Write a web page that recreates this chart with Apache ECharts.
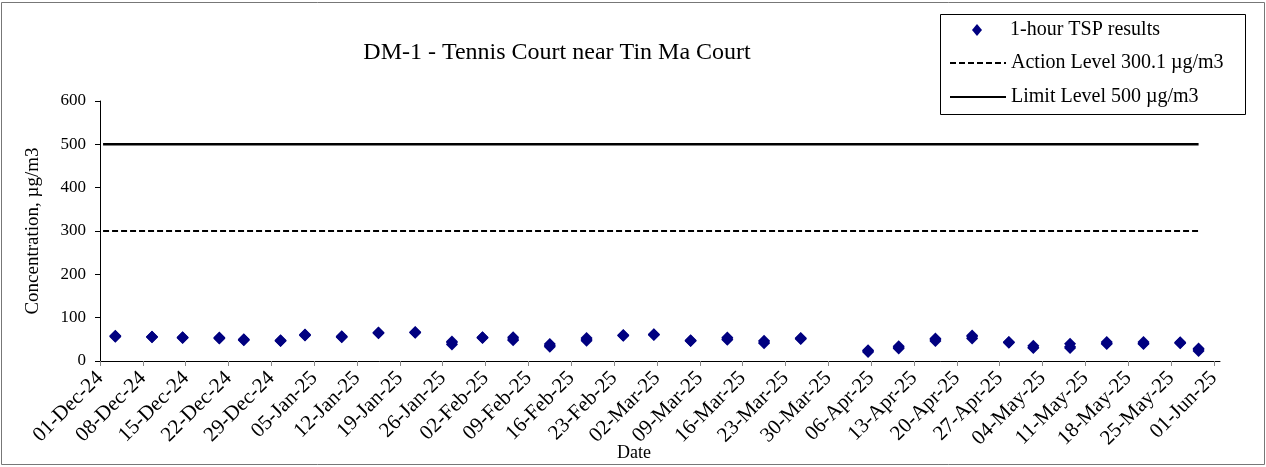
<!DOCTYPE html>
<html>
<head>
<meta charset="utf-8">
<script src="https://cdn.jsdelivr.net/npm/echarts@6/dist/echarts.min.js"></script>
<style>
html,body{margin:0;padding:0;background:#fff;}
#chart{width:1266px;height:467px;}
</style>
</head>
<body>
<div id="chart"></div>
<script>
// ---- data ----
const chartTitle = 'DM-1 - Tennis Court near Tin Ma Court';
const seriesNames = ['1-hour TSP results', 'Action Level 300.1 µg/m3', 'Limit Level 500 µg/m3'];
const axisStartDate = '2024-12-01';
const axisEndDate = '2025-06-02';
const xTickLabels = ['01-Dec-24','08-Dec-24','15-Dec-24','22-Dec-24','29-Dec-24','05-Jan-25','12-Jan-25','19-Jan-25','26-Jan-25','02-Feb-25','09-Feb-25','16-Feb-25','23-Feb-25','02-Mar-25','09-Mar-25','16-Mar-25','23-Mar-25','30-Mar-25','06-Apr-25','13-Apr-25','20-Apr-25','27-Apr-25','04-May-25','11-May-25','18-May-25','25-May-25','01-Jun-25'];
const yTicks = [0, 100, 200, 300, 400, 500, 600];
const sampleDates = ['2024-12-03','2024-12-09','2024-12-14','2024-12-20','2024-12-24','2024-12-30','2025-01-03','2025-01-09','2025-01-15','2025-01-21','2025-01-27','2025-02-01','2025-02-06','2025-02-12','2025-02-18','2025-02-24','2025-03-01','2025-03-07','2025-03-13','2025-03-19','2025-03-25','2025-04-05','2025-04-10','2025-04-16','2025-04-22','2025-04-28','2025-05-02','2025-05-08','2025-05-14','2025-05-20','2025-05-26','2025-05-29'];
const tspRun1 = [56,55,53,52,48,46,59,55,64,65,38,53,48,33,47,58,60,46,49,41,51,21,29,46,52,42,30,30,39,39,41,23];
const tspRun2 = [57,56,54,53,49,47,60,56,65,66,42,54,51,36,50,59,61,47,51,44,52,23,32,49,56,43,32,33,41,41,42,26];
const tspRun3 = [58,56,55,54,50,48,61,57,66,67,45,55,55,39,53,60,62,48,54,47,53,25,34,52,59,44,35,40,44,44,43,29];
const levelDates = ['2024-12-01','2025-05-29'];
const actionLevel = 300.1;
const limitLevel = 500;

// ---- helpers ----
const DAY = 86400000;
function dayIndex(s){
  const p = s.split('-').map(Number);
  const p0 = axisStartDate.split('-').map(Number);
  return (Date.UTC(p[0], p[1]-1, p[2]) - Date.UTC(p0[0], p0[1]-1, p0[2])) / DAY;
}
// Excel date axis: a day's value sits in the middle of that day
const pos = s => dayIndex(s) + 0.5;

const tspData = [];
[tspRun1, tspRun2, tspRun3].forEach(run => {
  run.forEach((v, i) => tspData.push([pos(sampleDates[i]), v]));
});
const actionData = levelDates.map(d => [pos(d), actionLevel]);
const limitData = levelDates.map(d => [pos(d), limitLevel]);
const tickValues = xTickLabels.map((_, i) => i * 7);

const FONT = 'Liberation Serif';
const chart = echarts.init(document.getElementById('chart'));
const legendText = { fontFamily: FONT, fontSize: 20, color: '#000', lineHeight: 20 };
chart.setOption({
  animation: false,
  backgroundColor: '#fff',
  title: {
    text: chartTitle, left: 557, top: 41, textAlign: 'center', padding: 0,
    textStyle: { fontFamily: FONT, fontSize: 24, fontWeight: 'normal', color: '#000' }
  },
  legend: [
    { orient: 'horizontal', left: 972, top: 20, padding: 0, itemWidth: 10, itemHeight: 12,
      selectedMode: false, icon: 'diamond', itemStyle: { opacity: 1 },
      textStyle: Object.assign({}, legendText, { padding: [0, 0, 0, 23] }),
      data: [seriesNames[0]] },
    { orient: 'horizontal', left: 949, top: 53, padding: 0, itemWidth: 56, itemHeight: 12,
      selectedMode: false, itemStyle: { opacity: 0 }, textStyle: legendText,
      data: [seriesNames[1]] },
    { orient: 'horizontal', left: 949, top: 87, padding: 0, itemWidth: 56, itemHeight: 12,
      selectedMode: false, itemStyle: { opacity: 0 }, textStyle: legendText,
      data: [seriesNames[2]] }
  ],
  graphic: [
    { type: 'rect', shape: { x: 1.5, y: 2.5, width: 1263, height: 462 }, style: { fill: 'none', stroke: '#777', lineWidth: 1 }, silent: true, z: -1 },
    { type: 'rect', shape: { x: 940.5, y: 14.5, width: 305, height: 100 }, style: { fill: '#fff', stroke: '#000', lineWidth: 1 }, silent: true, z: 0 }
  ],
  grid: { left: 100, top: 101, right: 46, bottom: 106, containLabel: false, outerBoundsMode: 'none' },
  xAxis: {
    type: 'value', min: 0, max: dayIndex(axisEndDate), interval: 7,
    name: 'Date', nameLocation: 'middle', nameGap: 83, nameMoveOverlap: false,
    nameTextStyle: { fontFamily: FONT, fontSize: 18, color: '#000', padding: [0, 52, 0, 0] },
    axisLine: { show: true, lineStyle: { color: '#000', width: 1 } },
    axisTick: { show: true, length: 5, lineStyle: { color: '#888' }, customValues: tickValues },
    axisLabel: {
      rotate: 45, margin: 14, customValues: tickValues,
      fontFamily: FONT, fontSize: 21, color: '#000',
      formatter: v => xTickLabels[Math.round(v / 7)] || ''
    },
    splitLine: { show: false }
  },
  yAxis: {
    type: 'value', min: yTicks[0], max: yTicks[yTicks.length-1], interval: 100,
    name: 'Concentration, µg/m3', nameLocation: 'middle', nameGap: 57, nameMoveOverlap: false,
    nameTextStyle: { fontFamily: FONT, fontSize: 19, color: '#000' },
    axisLine: { show: true, lineStyle: { color: '#000', width: 1 } },
    axisTick: { show: true, inside: false, length: 5, lineStyle: { color: '#000' } },
    axisLabel: { fontFamily: FONT, fontSize: 17, color: '#000', margin: 14 },
    splitLine: { show: false }
  },
  series: [
    {
      name: seriesNames[0], type: 'scatter', data: tspData,
      symbol: 'diamond', symbolSize: [12, 12],
      itemStyle: { color: '#000080', opacity: 1 }, z: 5
    },
    {
      name: seriesNames[1], type: 'line', data: actionData, symbol: 'none',
      itemStyle: { color: '#000' },
      lineStyle: { color: '#000', width: 2, type: [6, 3] }
    },
    {
      name: seriesNames[2], type: 'line', data: limitData, symbol: 'none',
      itemStyle: { color: '#000' },
      lineStyle: { color: '#000', width: 2.5, type: 'solid' }
    }
  ]
});
</script>
</body>
</html>
